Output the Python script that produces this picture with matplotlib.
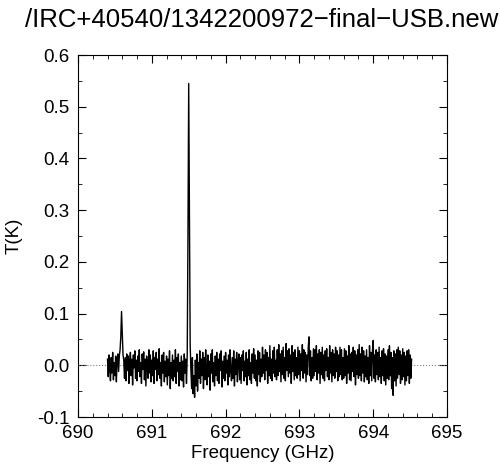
import numpy as np
import matplotlib
matplotlib.use('Agg')
import matplotlib.pyplot as plt
from matplotlib.ticker import MultipleLocator, FormatStrFormatter

plt.rcParams['font.family'] = ['Liberation Sans', 'DejaVu Sans']

title = '/IRC+40540/1342200972\u2212final\u2212USB.new'

# spectrum: first channel and channel step (GHz), T in mK
f_start = 690.40
f_step = 0.01
t_mk = [
	12, -22, 20, -8, -30, 15, -15, 25, -28, 5,        # 690.4
	-20, 18, -32, 10, 22, -12, 18, 30, 55, 104,       # 690.5
	60, 20, 10, -25, 15, -30, 22, -10, 18, -35,       # 690.6
	8, 25, -20, 12, -38, 20, -5, 28, -25, 10,         # 690.7
	-30, 18, -12, 30, -22, 5, -35, 22, -8, 26,        # 690.8
	-28, 12, -40, 18, 2, -25, 30, -15, 20, -32,       # 690.9
	10, -20, 28, -35, 15, -8, 25, -30, 12, -18,       # 691.0
	32, -25, 5, -40, 20, -15, 25, -32, 8, -22,        # 691.1
	18, -38, 12, -20, 28, -45, 5, -25, 20, -30,       # 691.2
	10, -22, 30, -35, 15, -12, 22, -40, 5, -28,       # 691.3
	18, -30, 8, -42, 22, -15, 12, -35, 20, 250,       # 691.4
	545, 300, 40, -10, -45, 15, -55, -20, -62, 10,    # 691.5
	-40, 22, -50, 5, -25, 28, -35, 12, -20, 25,       # 691.6
	-45, 15, -28, 30, -10, -38, 20, -22, 8, -48,      # 691.7
	22, -15, 30, -32, 5, -40, 18, -20, 25, -30,       # 691.8
	12, -35, 22, -10, 28, -42, 8, -25, 18, -30,       # 691.9
	25, -15, 10, -38, 20, -22, 30, -12, -30, 15,      # 692.0
	-25, 28, -40, 12, -18, 25, -32, 5, 22, -28,       # 692.1
	15, -35, 20, -10, 28, -30, 8, -22, 25, -38,       # 692.2
	12, -20, 30, -28, 5, -35, 22, -15, 32, -25,       # 692.3
	20, -30, 10, -40, 28, -18, 25, -32, 12, -22,      # 692.4
	35, -15, 20, -28, 30, -10, 25, -35, 15, -20,      # 692.5
	38, -25, 12, -30, 28, -15, 35, -22, 10, -28,      # 692.6
	30, -20, 40, -12, 22, -32, 28, -18, 35, -25,      # 692.7
	15, -30, 42, -10, 28, -22, 32, -15, 20, -35,      # 692.8
	38, -12, 25, -28, 30, -20, 15, -25, 35, -18,      # 692.9
	28, -30, 22, -10, 40, -25, 30, -15, 25, -32,      # 693.0
	20, -18, 35, 55, -20, 28, -30, 15, -25, 32,       # 693.1
	-20, 30, -12, 38, -28, 22, -15, 30, -35, 25,      # 693.2
	-18, 35, -25, 20, -30, 28, -10, 32, -22, 15,      # 693.3
	-28, 38, -15, 25, -32, 30, -20, 22, -25, 35,      # 693.4
	-12, 28, -30, 20, -22, 35, -18, 30, -28, 15,      # 693.5
	-25, 32, -20, 28, -35, 18, -15, 38, -28, 22,      # 693.6
	-30, 25, -12, 35, -22, 28, -38, 20, -18, 30,      # 693.7
	-25, 40, -20, 22, -30, 35, -15, 28, -32, 18,      # 693.8
	-22, 30, -28, 15, -35, 38, -20, 25, -30, 28,      # 693.9
	48, -25, 20, -32, 30, -18, 25, -28, 35, -22,      # 694.0
	15, -35, 28, -20, 32, -30, 22, -38, 18, -25,      # 694.1
	30, -28, 38, -20, 25, -45, 15, -58, 28, -30,      # 694.2
	22, -40, 30, -25, 35, -18, 28, -35, 20, -28,      # 694.3
	32, -22, 25, -38, 18, -30, 28, -20, 30, -35,      # 694.4
	20, -25, 12,                                      # 694.5
]

temp = np.array(t_mk) / 1000.0
freq = f_start + f_step * np.arange(len(temp))

fig = plt.figure(figsize=(5.0, 4.71), dpi=100)
ax = fig.add_axes([0.156, 0.1146, 0.738, 0.7686])

ax.axhline(0.0, color='gray', ls=':', lw=0.8)
ax.plot(freq, temp, color='black', lw=1.0)

ax.set_xlim(690, 695)
ax.set_ylim(-0.1, 0.6)
ax.xaxis.set_major_locator(MultipleLocator(1))
ax.xaxis.set_minor_locator(MultipleLocator(0.2))
ax.yaxis.set_major_locator(MultipleLocator(0.1))
ax.yaxis.set_minor_locator(MultipleLocator(0.05))
ax.yaxis.set_major_formatter(FormatStrFormatter('%.1f'))
ax.tick_params(which='both', direction='in', top=True, right=True, labelsize=13.5, pad=6)
ax.tick_params(which='major', length=6)
ax.tick_params(which='minor', length=3)

ax.set_xlabel('Frequency (GHz)', fontsize=13.5, labelpad=2)
ax.set_ylabel('T(K)', fontsize=13.5)
ax.yaxis.set_label_coords(-0.15, 0.5)

fig.text(0.524, 0.958, title, ha='center', va='center', fontsize=18.5)

fig.savefig('out.png', dpi=100)
